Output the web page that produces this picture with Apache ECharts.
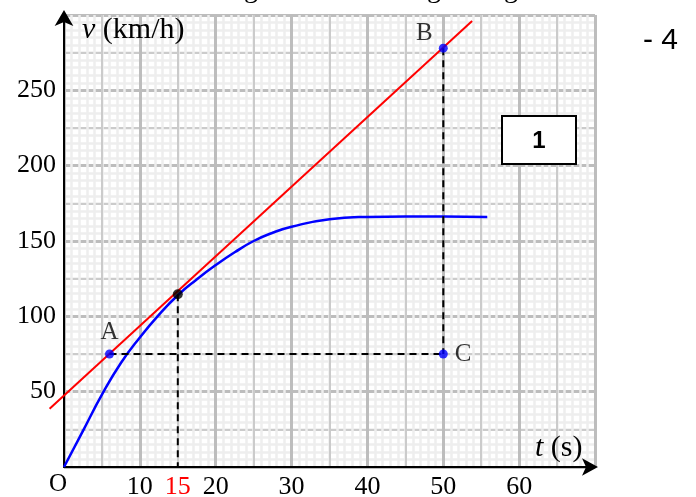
<!DOCTYPE html>
<html>
<head>
<meta charset="utf-8">
<script src="https://cdn.jsdelivr.net/npm/echarts@6/dist/echarts.min.js"></script>
<style>
  html, body { margin: 0; padding: 0; background: #fff; }
  #chart { width: 696px; height: 497px; }
</style>
</head>
<body>
<div id="chart"></div>
<script>
// speed curve v(t)
var tData = [0, 2.5, 5, 7.5, 10, 12.5, 15, 17.5, 20, 22.5, 25, 27.5, 30, 35, 40, 45, 50, 55.8];
var vData = [0, 24, 48, 69, 86, 101, 114, 124.5, 134, 142.5, 150, 155.5, 159.5, 164.5, 166, 166.3, 166.2, 166];

// tangent line at t = 15 (end points)
var tangentT = [-1.9, 53.8];
var tangentV = [38.7, 296];

// named points
var pointA = [6, 75];
var pointB = [50, 278];
var pointC = [50, 75];
var pointM = [15, 114.6];

// tick labels
var xTicks = [10, 15, 20, 30, 40, 50, 60];
var yTicks = [50, 100, 150, 200, 250];

var serif = '"Liberation Serif", "DejaVu Serif", serif';
var sans = '"Liberation Sans", Arial, sans-serif';

var chartDom = document.getElementById('chart');
var myChart = echarts.init(chartDom);
var option;

function gridAxis(dim, interval, color, width, main) {
  var ax = {
    type: 'value',
    position: dim === 'x' ? 'bottom' : 'left',
    min: 0,
    max: dim === 'x' ? 70 : 300,
    interval: interval,
    splitLine: { show: true, lineStyle: { color: color, width: width } },
    axisTick: { show: false },
    axisLabel: { show: false },
    axisLine: { show: false }
  };
  if (main) {
    ax.axisLine = {
      show: true,
      onZero: false,
      symbol: ['none', 'arrow'],
      symbolSize: dim === 'x' ? [13, 16] : [14, 16],
      symbolOffset: dim === 'x' ? [0, 3] : [0, 5],
      lineStyle: { color: '#000', width: 2 }
    };
    ax.axisLabel = {
      show: true,
      customValues: dim === 'x' ? xTicks : yTicks,
      color: '#000',
      fontFamily: serif,
      fontSize: 26,
      margin: dim === 'x' ? 7 : 8,
      formatter: function (v) {
        return v === 15 ? '{r|15}' : String(v);
      },
      rich: {
        r: { color: '#ff0000', fontFamily: serif, fontSize: 26 }
      }
    };
  }
  return ax;
}

function pairs(xs, ys) {
  var out = [];
  for (var i = 0; i < xs.length; i++) {
    out.push([xs[i], ys[i]]);
  }
  return out;
}

function cutText(x) {
  // descender of a letter from the line above the figure
  return {
    type: 'text', x: x, y: -24, z: 100,
    style: { text: 'g', font: '28px ' + serif, fill: '#000', verticalAlign: 'top' }
  };
}

var dashStyle = { color: '#000', width: 2, type: [7, 5] };

option = {
  animation: false,
  backgroundColor: '#fff',
  grid: {
    left: 64,
    right: 101,
    top: 15,
    bottom: 30,
    containLabel: false,
    outerBoundsMode: 'none'
  },
  xAxis: [
    gridAxis('x', 1, '#eeeeee', 2.5, false),
    gridAxis('x', 5, '#cbcbcb', 2, false),
    gridAxis('x', 10, '#bdbdbd', 3, true)
  ],
  yAxis: [
    gridAxis('y', 5, '#eeeeee', 2.5, false),
    gridAxis('y', 25, '#cbcbcb', 2, false),
    gridAxis('y', 50, '#bdbdbd', 3, true)
  ],
  series: [
    {
      // custom series so the tangent can run past the y axis
      name: 'tangente',
      type: 'custom',
      xAxisIndex: 2,
      yAxisIndex: 2,
      clip: false,
      data: [[tangentT[0], tangentV[0], tangentT[1], tangentV[1]]],
      renderItem: function (params, api) {
        var p0 = api.coord([api.value(0), api.value(1)]);
        var p1 = api.coord([api.value(2), api.value(3)]);
        return {
          type: 'line',
          shape: { x1: p0[0], y1: p0[1], x2: p1[0], y2: p1[1] },
          style: { stroke: '#ff0000', lineWidth: 2 }
        };
      },
      z: 3
    },
    {
      name: 'v(t)',
      type: 'line',
      xAxisIndex: 2,
      yAxisIndex: 2,
      smooth: 0.5,
      symbol: 'none',
      lineStyle: { color: '#0000ff', width: 2.5 },
      data: pairs(tData, vData),
      z: 4
    },
    {
      name: 'AC',
      type: 'line',
      xAxisIndex: 2,
      yAxisIndex: 2,
      symbol: 'none',
      lineStyle: dashStyle,
      data: [pointA, pointC],
      z: 5
    },
    {
      name: 'BC',
      type: 'line',
      xAxisIndex: 2,
      yAxisIndex: 2,
      symbol: 'none',
      lineStyle: dashStyle,
      data: [pointB, pointC],
      z: 5
    },
    {
      name: 't15',
      type: 'line',
      xAxisIndex: 2,
      yAxisIndex: 2,
      symbol: 'none',
      lineStyle: dashStyle,
      data: [pointM, [pointM[0], 0]],
      z: 5
    },
    {
      name: 'points',
      type: 'scatter',
      xAxisIndex: 2,
      yAxisIndex: 2,
      symbolSize: 9,
      itemStyle: { color: '#0000ff' },
      label: {
        show: true,
        color: '#000',
        fontFamily: serif,
        fontSize: 25,
        formatter: function (p) { return p.name; }
      },
      data: [
        { name: 'A', value: pointA, label: { position: 'top', distance: 5 } },
        { name: 'B', value: pointB, label: { position: 'left', offset: [-1, -15] } },
        { name: 'C', value: pointC, label: { position: 'right', distance: 7 } }
      ],
      z: 6
    },
    {
      name: 'M',
      type: 'scatter',
      xAxisIndex: 2,
      yAxisIndex: 2,
      symbolSize: 10,
      itemStyle: { color: '#000' },
      data: [pointM],
      z: 6
    }
  ],
  graphic: [
    {
      type: 'text',
      left: 82,
      top: 15,
      z: 100,
      style: {
        text: '{i|v} (km/h)',
        font: '30px ' + serif,
        fill: '#000',
        rich: { i: { fontStyle: 'italic', fontFamily: serif, fontSize: 30 } }
      }
    },
    {
      type: 'text',
      left: 535,
      top: 433,
      z: 100,
      style: {
        text: '{i|t} (s)',
        font: '30px ' + serif,
        fill: '#000',
        rich: { i: { fontStyle: 'italic', fontFamily: serif, fontSize: 30 } }
      }
    },
    {
      type: 'text',
      left: 49,
      top: 472,
      z: 100,
      style: { text: 'O', font: '25px ' + serif, fill: '#000' }
    },
    {
      type: 'rect',
      z: 100,
      shape: { x: 502, y: 116, width: 74, height: 48 },
      style: { fill: '#fff', stroke: '#000', lineWidth: 2 }
    },
    {
      type: 'text',
      z: 101,
      x: 539,
      y: 141,
      style: {
        text: '1',
        font: 'bold 24px ' + sans,
        fill: '#000',
        align: 'center',
        verticalAlign: 'middle'
      }
    },
    {
      type: 'text',
      left: 643,
      top: 26,
      z: 100,
      style: { text: '- 4', font: '30px ' + sans, fill: '#000' }
    },
    cutText(244),
    cutText(427),
    cutText(504)
  ]
};

option && myChart.setOption(option);
</script>
</body>
</html>
